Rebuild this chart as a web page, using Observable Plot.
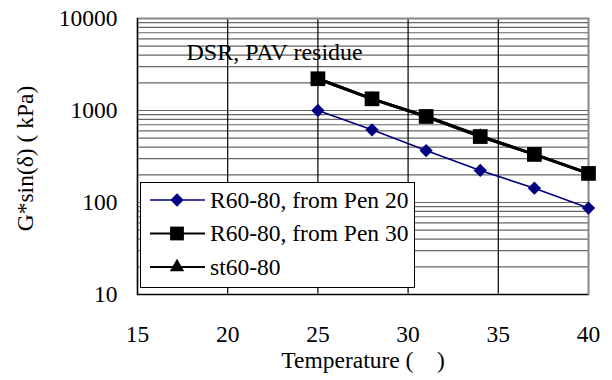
<!DOCTYPE html>
<html>
<head>
<meta charset="utf-8">
<script src="https://cdn.jsdelivr.net/npm/d3@7"></script>
<script src="https://cdn.jsdelivr.net/npm/@observablehq/plot@0.6"></script>
<style>
  html, body { margin: 0; padding: 0; background: #fff; }
  #wrap { position: relative; width: 612px; height: 380px; }
  #wrap svg { font-family: "Liberation Serif", "Times New Roman", serif; }
</style>
</head>
<body>
<div id="wrap"></div>
<script>
const temperatures = [25, 28, 31, 34, 37, 40];
const pen20Values = [1000, 616, 367, 223, 143, 87];
const pen30Values = [2214, 1340, 861, 521, 333, 207];
const st6080Values = [2214, 1340, 861, 528, 333, 207];
const seriesNames = ["R60-80, from Pen 20", "R60-80, from Pen 30", "st60-80"];
const xTicks = [15, 20, 25, 30, 35, 40];
const yTicks = [10, 100, 1000, 10000];
const xGridTicks = [20, 25, 30, 35];

const pen20 = temperatures.map((t, i) => ({t, v: pen20Values[i]}));
const pen30 = temperatures.map((t, i) => ({t, v: pen30Values[i]}));
const st = temperatures.map((t, i) => ({t, v: st6080Values[i]}));

const font = "'Liberation Serif', 'Times New Roman', serif";
const fs = 23.5;

const chart = Plot.plot({
  width: 612,
  height: 380,
  marginLeft: 137,
  marginRight: 24,
  marginTop: 18,
  marginBottom: 86,
  style: {fontFamily: font, background: "#fff"},
  x: {domain: [15, 40]},
  y: {type: "log", domain: [10, 10000]},
  marks: [
    Plot.gridY({stroke: "#666", strokeOpacity: 1, strokeWidth: 1.2}),
    Plot.gridX(xGridTicks, {stroke: "#000", strokeOpacity: 1, strokeWidth: 1.2}),
    Plot.frame({stroke: "#888", strokeWidth: 2}),
    Plot.ruleX([15], {stroke: "#000", strokeWidth: 1.2}),
    Plot.ruleY([10], {stroke: "#000", strokeWidth: 1.2}),
    Plot.axisX({ticks: xTicks, tickSize: 0, tickPadding: 31, fontSize: fs, label: null, tickFormat: d => String(d)}),
    Plot.axisY({ticks: yTicks, tickSize: 0, tickPadding: 20, fontSize: fs, label: null, tickFormat: d => String(d)}),
    Plot.text(["Temperature (    )"], {frameAnchor: "bottom", dy: 73, fontSize: fs, fill: "#000", textAnchor: "middle"}),
    Plot.text(["G*sin(δ) ( kPa)"], {frameAnchor: "left", dx: -112, dy: 2, rotate: -90, fontSize: fs, fill: "#000", textAnchor: "middle"}),
    Plot.text(["DSR, PAV residue"], {frameAnchor: "top-left", dx: 49, dy: 24, fontSize: 24, fill: "#000", textAnchor: "start"}),
    Plot.line(st, {x: "t", y: "v", stroke: "#000", strokeWidth: 3}),
    Plot.dot(st, {x: "t", y: "v", symbol: "triangle", fill: "#000", stroke: "none", r: 5}),
    Plot.line(pen30, {x: "t", y: "v", stroke: "#000", strokeWidth: 3}),
    Plot.dot(pen30, {x: "t", y: "v", symbol: "square", fill: "#000", stroke: "none", r: 8.3}),
    Plot.line(pen20, {x: "t", y: "v", stroke: "#000080", strokeWidth: 1.6}),
    Plot.dot(pen20, {x: "t", y: "v", symbol: "diamond2", fill: "#000080", stroke: "none", r: 6})
  ]
});
document.getElementById("wrap").appendChild(chart);

// Legend overlay
const legendItems = [
  {name: seriesNames[0], color: "#000080", width: 1.6, symbol: d3.symbolDiamond2, size: 113},
  {name: seriesNames[1], color: "#000", width: 2.2, symbol: d3.symbolSquare, size: 190},
  {name: seriesNames[2], color: "#000", width: 2, symbol: d3.symbolTriangle, size: 90}
];
const svg = d3.select(chart);
const lg = svg.append("g").attr("transform", "translate(140,182)");
lg.append("rect").attr("x", 0.5).attr("y", 0.5).attr("width", 274).attr("height", 105)
  .attr("fill", "#fff").attr("stroke", "#000").attr("stroke-width", 1);
legendItems.forEach((it, i) => {
  const cy = 18 + i * 33.5;
  lg.append("line").attr("x1", 10).attr("x2", 65).attr("y1", cy).attr("y2", cy)
    .attr("stroke", it.color).attr("stroke-width", it.width);
  lg.append("path").attr("d", d3.symbol(it.symbol, it.size)()).attr("transform", `translate(37,${cy})`)
    .attr("fill", it.color);
  lg.append("text").attr("x", 70).attr("y", cy).attr("dy", "0.33em")
    .attr("text-anchor", "start")
    .attr("font-size", fs).attr("font-family", font).attr("fill", "#000").text(it.name);
});
</script>
</body>
</html>
